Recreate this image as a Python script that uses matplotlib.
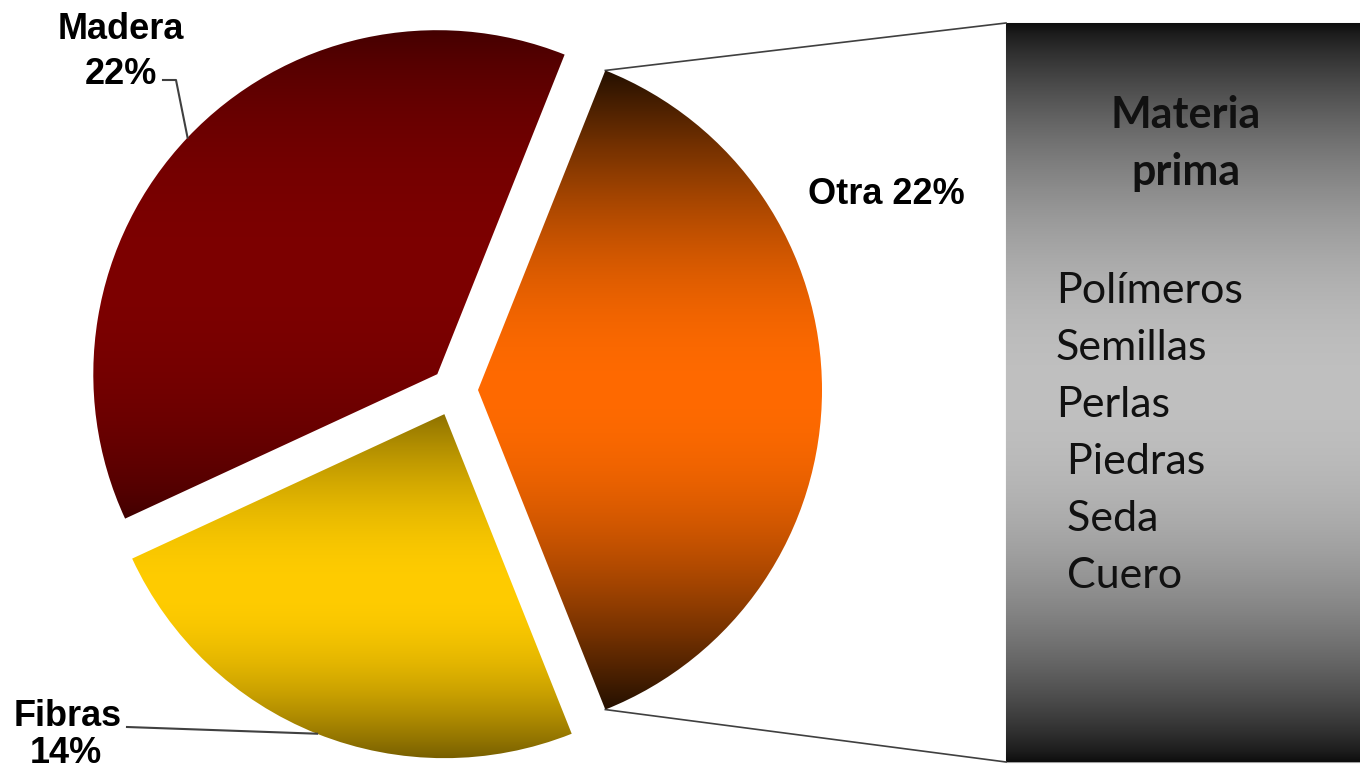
import numpy as np
import matplotlib
matplotlib.use('Agg')
from matplotlib import pyplot as plt
from matplotlib.colors import LinearSegmentedColormap, to_rgb
from matplotlib.patches import Rectangle

# data
labels = ['Otra', 'Madera', 'Fibras']
values = [22, 22, 14]
explode = [24, 23, 26]
# gradient colours per slice: top, centre, bottom
grad_top = ['#241000', '#380000', '#8c7000']
grad_mid = ['#ff6a00', '#7d0000', '#ffcc00']
grad_bot = ['#241000', '#3c0000', '#6a5400']
grad_pow = [1.0, 0.6, 0.9]

box_title = ['Materia', 'prima']
box_items = ['Polímeros', 'Semillas', 'Perlas', ' Piedras', ' Seda', ' Cuero']

W, H = 1360, 771


def Y(y):
    # picture rows (top down) -> data units (bottom up)
    return H - y


def GradCmap(top, mid, bot, p=1.0):
    # smooth dark - bright - dark ramp
    t = np.linspace(0, 1, 65)
    wgt = np.sin(np.pi * t) ** p
    top, mid, bot = np.array(to_rgb(top)), np.array(to_rgb(mid)), np.array(to_rgb(bot))
    edge = np.where(t[:, None] < 0.5, top, bot)
    cols = edge + (mid - edge) * wgt[:, None]
    return LinearSegmentedColormap.from_list('g', list(zip(t, np.clip(cols, 0, 1))), N=1024)


def FillGradient(ax, patch, cmap):
    verts = patch.get_patch_transform().transform(patch.get_path().vertices)
    x0, x1 = verts[:, 0].min(), verts[:, 0].max()
    y0, y1 = verts[:, 1].min(), verts[:, 1].max()
    grad = np.linspace(0, 1, 1024).reshape(-1, 1)
    im = ax.imshow(grad, cmap=cmap, aspect='auto', origin='upper',
                   extent=[x0, x1, y0, y1], zorder=patch.get_zorder(),
                   interpolation='bilinear')
    im.set_clip_path(patch)


fig = plt.figure(figsize=(13.6, 7.71), dpi=100)
ax = fig.add_axes([0, 0, 1, 1])

centre = (454, Y(390))
radius = 344
start = -180.0 * values[0] / sum(values)
wedges, _ = ax.pie(values, explode=explode, center=centre, radius=radius,
                   startangle=start, counterclock=True, frame=True,
                   wedgeprops={'linewidth': 0})

for i, w in enumerate(wedges):
    w.set_facecolor('none')
    FillGradient(ax, w, GradCmap(grad_top[i], grad_mid[i], grad_bot[i], grad_pow[i]))

# grey box with the breakdown of "Otra"
box = Rectangle((1006, Y(762)), W - 1006, 762 - 23, facecolor='none',
                edgecolor='#a0a0a0', linewidth=0.8, zorder=3)
ax.add_patch(box)
FillGradient(ax, box, GradCmap('#0e0e0e', '#c0c0c0', '#0e0e0e', 0.8))

# connector lines from the Otra slice to the box
ow = wedges[0]
for ang, corner in ((ow.theta2, Y(23)), (ow.theta1, Y(762))):
    px = ow.center[0] + radius * np.cos(np.radians(ang))
    py = ow.center[1] + radius * np.sin(np.radians(ang))
    ax.plot([px, 1006], [py, corner], color='#404040', lw=1.2, zorder=4)

lab_font = {'family': 'Liberation Sans', 'weight': 'bold', 'size': 26}


def EdgePoint(w):
    a = np.radians(0.5 * (w.theta1 + w.theta2))
    return (w.center[0] + radius * np.cos(a), w.center[1] + radius * np.sin(a))


# Madera
ax.text(121, Y(39), 'Madera', ha='center', va='baseline', fontdict=lab_font)
ax.text(121, Y(84), '22%', ha='center', va='baseline', fontdict=lab_font)
mx, my = EdgePoint(wedges[1])
ax.plot([163, 176, mx], [Y(80), Y(80), my], color='#404040', lw=1.5, zorder=4)

# Otra
ax.text(886, Y(204), 'Otra 22%', ha='center', va='baseline', fontdict=lab_font)

# Fibras
ax.text(68, Y(726), 'Fibras', ha='center', va='baseline', fontdict=lab_font)
ax.text(66, Y(763), '14%', ha='center', va='baseline', fontdict=lab_font)
fx, fy = EdgePoint(wedges[2])
ax.plot([127, fx], [Y(727), fy], color='#404040', lw=1.5, zorder=4)

# text inside the box
for i, line in enumerate(box_title):
    ax.text(1186, Y(128 + 57 * i), line, ha='center', va='baseline', fontsize=31,
            fontweight='bold', family='Lato', color='#111111', zorder=5)
item_x = 1056
for i, item in enumerate(box_items):
    ax.text(item_x, Y(303 + 57 * i), item, ha='left', va='baseline',
            fontsize=31, family='Lato', color='#111111', zorder=5)

ax.set_xlim(0, W)
ax.set_ylim(0, H)
ax.set_aspect('auto')
ax.axis('off')

plt.savefig('out.png', dpi=100)
